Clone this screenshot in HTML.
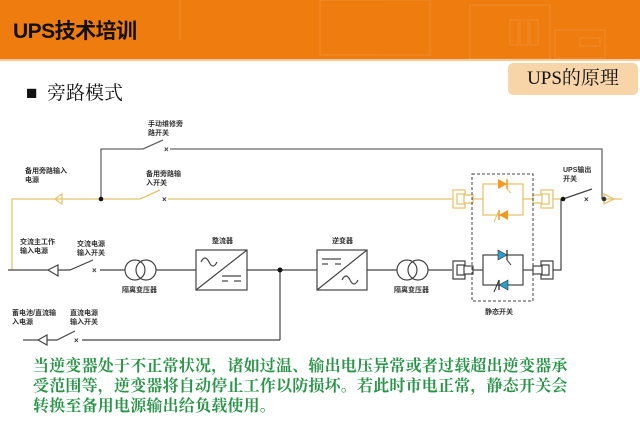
<!DOCTYPE html>
<html><head><meta charset="utf-8"><style>
html,body{margin:0;padding:0;background:#fff;}
body{width:640px;height:443px;position:relative;overflow:hidden;font-family:"Liberation Sans","Noto Sans CJK SC",sans-serif;}
.hdr{position:absolute;left:0;top:0;width:640px;height:59px;background:#ee7c0f;border-bottom:2px solid #f6c89a;}
.title{position:absolute;left:13px;top:15px;font-size:21px;font-weight:bold;color:#111;letter-spacing:-0.5px;}
.badge{position:absolute;left:508px;top:63px;width:130px;height:32px;background:#f7d5a9;border-radius:5px;font-family:"Liberation Serif","Noto Serif CJK SC",serif;font-size:19px;line-height:32px;text-align:center;color:#111;}
.sub{position:absolute;left:26px;top:78px;font-family:"Liberation Serif","Noto Serif CJK SC",serif;font-size:19px;color:#111;}
.txt{position:absolute;left:33px;top:357px;white-space:nowrap;font-family:"Liberation Serif","Noto Serif CJK SC",serif;font-size:16px;letter-spacing:0.2px;line-height:20px;color:#2a9548;font-weight:bold;}
svg text{font-family:"Liberation Sans","Noto Sans CJK SC",sans-serif;font-size:7px;font-weight:bold;fill:#333;}
</style></head><body>
<div class="hdr">
<svg width="640" height="59" style="position:absolute;left:0;top:0">
<g stroke="#f3a055" stroke-width="1" fill="none" opacity="0.45">
<line x1="180" y1="0" x2="180" y2="40"/>
<rect x="320" y="0" width="110" height="55"/>
<rect x="470" y="5" width="80" height="54"/>
<rect x="555" y="30" width="50" height="28"/>
<rect x="510" y="20" width="8" height="25"/><rect x="520" y="20" width="8" height="25"/><rect x="530" y="20" width="8" height="25"/>
<rect x="580" y="38" width="20" height="8"/>
</g></svg>
<div class="title">UPS技术培训</div>
</div>
<div class="badge">UPS的原理</div>
<div class="sub">■&nbsp; 旁路模式</div>

<svg width="640" height="443" style="position:absolute;left:0;top:0">
<g stroke="#666" stroke-width="1.3" fill="none">
<polyline points="101,199 101,149 143,149 163,140"/>
<polyline points="170,149 602,149 602,199"/>
</g>
<text x="164" y="152" style="font-size:8px">×</text>
<g stroke="#e6c36e" stroke-width="1.3" fill="none">
<polyline points="12,270 12,199 140,199 160,190"/>
<line x1="168" y1="199" x2="452" y2="199"/>
<polygon points="55,199 62,194 62,204"/>
<line x1="473" y1="199" x2="483" y2="199"/>
<rect x="483" y="184" width="40" height="31"/>
<line x1="523" y1="199" x2="533" y2="199"/>
<path d="M465,190 h-12 v18 h12 v-4 h-8 v-10 h8 z"/>
<rect x="464" y="195" width="9" height="8"/>
<path d="M541,190 h12 v18 h-12 v-4 h8 v-10 h-8 z"/>
<rect x="533" y="195" width="9" height="8"/>
<line x1="553" y1="199" x2="563" y2="199"/>
<line x1="604" y1="199" x2="622" y2="199"/>
<polygon points="604,194 614,199 604,204"/>
</g>
<text x="162" y="202" style="font-size:8px">×</text>
<circle cx="101" cy="199" r="2.3" fill="#111"/>
<polygon points="498,179 498,189 507,184" fill="#f29a1e"/>
<line x1="507" y1="179" x2="507" y2="189" stroke="#f29a1e" stroke-width="1.5"/>
<line x1="507" y1="189" x2="511" y2="193" stroke="#e6c36e"/>
<polygon points="508,210 508,220 499,215" fill="#f29a1e"/>
<line x1="499" y1="210" x2="499" y2="220" stroke="#f29a1e" stroke-width="1.5"/>
<line x1="499" y1="210" x2="494" y2="222" stroke="#e6c36e"/>
<g stroke="#444" stroke-width="1.2" fill="none">
<line x1="8" y1="270" x2="48" y2="270"/>
<polygon points="48,270 58,265 58,276"/>
<polyline points="58,270 70,270 93,260"/>
<line x1="100" y1="270" x2="125" y2="270"/>
<circle cx="135" cy="270" r="10"/><circle cx="146" cy="270" r="10"/>
<line x1="156" y1="270" x2="196" y2="270"/>
<rect x="196" y="250" width="51" height="40"/>
<line x1="196" y1="290" x2="247" y2="250"/>
<path d="M201,262 q4,-8 8,0 q4,8 8,0"/>
<line x1="222" y1="276" x2="241" y2="276"/>
<line x1="222" y1="281" x2="228" y2="281"/><line x1="234" y1="281" x2="241" y2="281"/>
<line x1="247" y1="270" x2="317" y2="270"/>
<rect x="317" y="250" width="50" height="40"/>
<line x1="317" y1="290" x2="367" y2="250"/>
<line x1="322" y1="259" x2="341" y2="259"/>
<line x1="322" y1="264" x2="328" y2="264"/><line x1="335" y1="264" x2="341" y2="264"/>
<path d="M342,280 q4,-8 8,0 q4,8 8,0"/>
<line x1="367" y1="270" x2="397" y2="270"/>
<circle cx="407" cy="270" r="10"/><circle cx="418" cy="270" r="10"/>
<line x1="428" y1="270" x2="452" y2="270"/>
<path d="M465,261 h-12 v18 h12 v-4 h-8 v-10 h8 z"/>
<rect x="464" y="266" width="9" height="8"/>
<line x1="473" y1="270" x2="483" y2="270"/>
<rect x="483" y="255" width="40" height="30"/>
<line x1="523" y1="270" x2="533" y2="270"/>
<path d="M541,261 h12 v18 h-12 v-4 h8 v-10 h-8 z"/>
<rect x="533" y="266" width="9" height="8"/>
<polyline points="553,270 561,270 561,199"/>
<polyline points="563,199 592,189"/>
<line x1="280" y1="270" x2="280" y2="340"/>
<line x1="23" y1="340" x2="38" y2="340"/>
<polygon points="38,340 47,335 47,345"/>
<polyline points="47,340 57,340 75,331"/>
<line x1="82" y1="340" x2="280" y2="340"/>
</g>
<text x="92" y="273" style="font-size:8px">×</text>
<text x="584" y="202" style="font-size:8px">×</text>
<text x="74" y="343" style="font-size:8px">×</text>
<circle cx="280" cy="270" r="2.5" fill="#111"/>
<circle cx="563" cy="199" r="2.3" fill="#111"/>
<circle cx="604" cy="199" r="2.3" fill="#333"/>
<polygon points="498,250 498,260 507,255" fill="#2a9fc9" stroke="#333" stroke-width="0.6"/>
<line x1="507" y1="250" x2="507" y2="260" stroke="#333" stroke-width="1.3"/>
<line x1="507" y1="260" x2="511" y2="265" stroke="#333"/>
<polygon points="508,280 508,290 499,285" fill="#2a9fc9" stroke="#333" stroke-width="0.6"/>
<line x1="499" y1="280" x2="499" y2="290" stroke="#333" stroke-width="1.3"/>
<line x1="499" y1="280" x2="494" y2="292" stroke="#333"/>
<rect x="472" y="174" width="61" height="127" fill="none" stroke="#444" stroke-width="1" stroke-dasharray="3,2"/>
<text x="148" y="126">手动维修旁</text><text x="148" y="135">路开关</text>
<text x="146" y="176">备用旁路输</text><text x="146" y="185">入开关</text>
<text x="25" y="173">备用旁路输入</text><text x="25" y="182">电源</text>
<text x="20" y="244">交流主工作</text><text x="20" y="253">输入电源</text>
<text x="77" y="246">交流电源</text><text x="77" y="255">输入开关</text>
<text x="122" y="292">隔离变压器</text>
<text x="212" y="243">整流器</text>
<text x="332" y="243">逆变器</text>
<text x="394" y="292">隔离变压器</text>
<text x="485" y="314">静态开关</text>
<text x="563" y="172">UPS输出</text><text x="563" y="181">开关</text>
<text x="12" y="315">蓄电池/直流输</text><text x="12" y="324">入电源</text>
<text x="70" y="315">直流电源</text><text x="70" y="324">输入开关</text>
</svg>

<div class="txt">当逆变器处于不正常状况，诸如过温、输出电压异常或者过载超出逆变器承<br>受范围等，逆变器将自动停止工作以防损坏。若此时市电正常，静态开关会<br>转换至备用电源输出给负载使用。</div>
</body></html>
